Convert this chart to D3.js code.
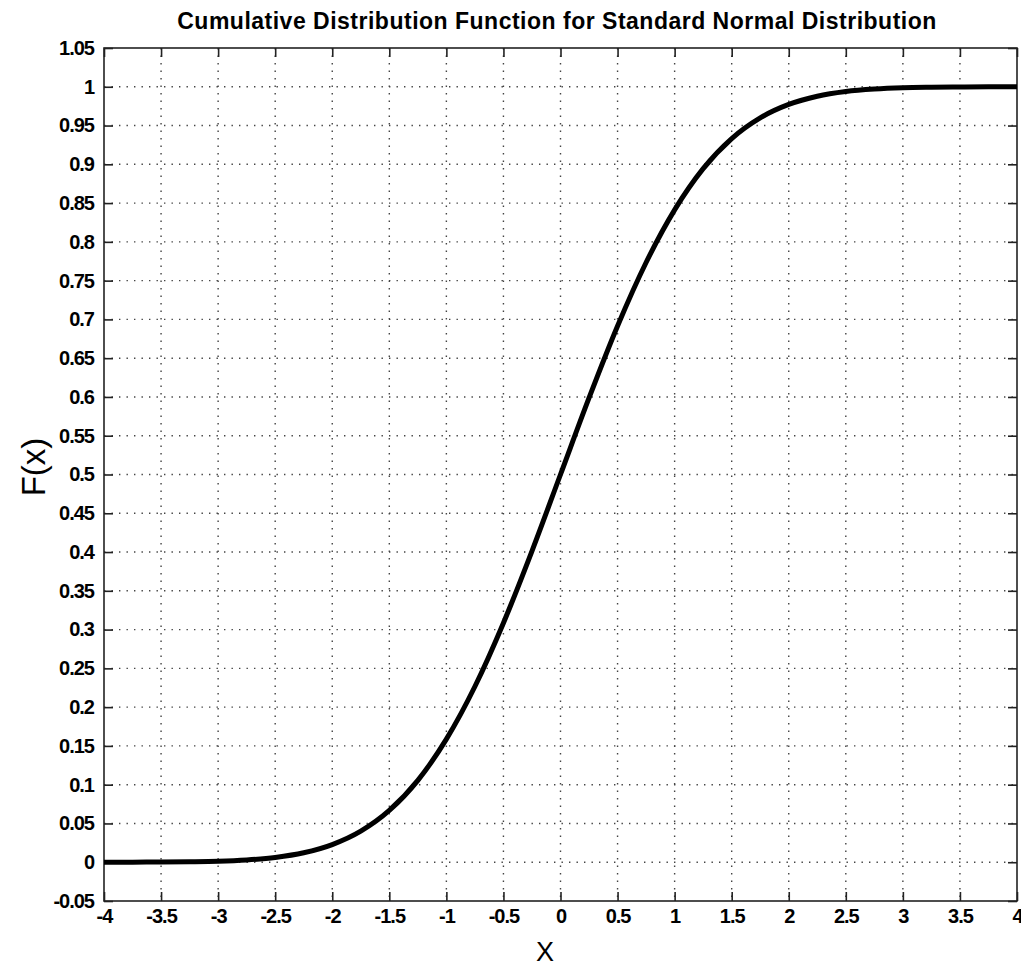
<!DOCTYPE html>
<html>
<head>
<meta charset="utf-8">
<script src="https://cdn.jsdelivr.net/npm/d3@7"></script>
<style>
  body { margin: 0; background: #fff; }
  svg { display: block; font-family: "Liberation Sans", Arial, sans-serif; }
  .tick text { font-weight: bold; font-size: 20px; letter-spacing: -1px; fill: #000; }
  .grid line { stroke: #444; stroke-width: 1.4; stroke-dasharray: 1.4,6.1; }
</style>
</head>
<body>
<script>
// x values and F(x)
var xVals = [-4, -3.75, -3.5, -3.25, -3, -2.75, -2.5, -2.25, -2, -1.75, -1.5, -1.25, -1, -0.75, -0.5, -0.25,
             0, 0.25, 0.5, 0.75, 1, 1.25, 1.5, 1.75, 2, 2.25, 2.5, 2.75, 3, 3.25, 3.5, 3.75, 4];
var fVals = [0.0000, 0.0001, 0.0002, 0.0006, 0.0013, 0.0030, 0.0062, 0.0122, 0.0228, 0.0401, 0.0668, 0.1056, 0.1587, 0.2266, 0.3085, 0.4013,
             0.5000, 0.5987, 0.6915, 0.7734, 0.8413, 0.8944, 0.9332, 0.9599, 0.9772, 0.9878, 0.9938, 0.9970, 0.9987, 0.9994, 0.9998, 0.9999, 1.0000];

var xTicks = [-4, -3.5, -3, -2.5, -2, -1.5, -1, -0.5, 0, 0.5, 1, 1.5, 2, 2.5, 3, 3.5, 4];
var yTicks = [-0.05, 0, 0.05, 0.1, 0.15, 0.2, 0.25, 0.3, 0.35, 0.4, 0.45, 0.5, 0.55, 0.6, 0.65, 0.7, 0.75, 0.8, 0.85, 0.9, 0.95, 1, 1.05];

var titleText = "Cumulative Distribution Function for Standard Normal Distribution";

var W = 1021, H = 966;
var margin = {top: 48, right: 4, bottom: 65, left: 104};
var width = W - margin.left - margin.right,
    height = H - margin.top - margin.bottom;

var svg = d3.select("body").append("svg")
    .attr("width", W)
    .attr("height", H);

var g = svg.append("g")
    .attr("transform", "translate(" + margin.left + "," + margin.top + ")");

var x = d3.scaleLinear().domain([-4, 4]).range([0, width]);
var y = d3.scaleLinear().domain([-0.05, 1.05]).range([height, 0]);

function fmt(d) { return String(+d.toFixed(2)); }

// grid
g.append("g").attr("class", "grid")
  .selectAll("line").data(xTicks.slice(1, -1)).enter().append("line")
    .attr("x1", function(d) { return x(d); }).attr("x2", function(d) { return x(d); })
    .attr("y1", 0).attr("y2", height);
g.append("g").attr("class", "grid")
  .selectAll("line").data(yTicks.slice(1, -1)).enter().append("line")
    .attr("y1", function(d) { return y(d); }).attr("y2", function(d) { return y(d); })
    .attr("x1", 0).attr("x2", width);

// axes, ticks pointing inward
var xAxis = g.append("g")
    .attr("transform", "translate(0," + height + ")")
    .call(d3.axisBottom(x).tickValues(xTicks).tickFormat(fmt).tickSizeInner(-9).tickSizeOuter(0).tickPadding(13));
var yAxis = g.append("g")
    .call(d3.axisLeft(y).tickValues(yTicks).tickFormat(fmt).tickSizeInner(-9).tickSizeOuter(0).tickPadding(10));
g.append("g")
    .call(d3.axisTop(x).tickValues(xTicks).tickFormat("").tickSizeInner(-9).tickSizeOuter(0));
g.append("g")
    .attr("transform", "translate(" + width + ",0)")
    .call(d3.axisRight(y).tickValues(yTicks).tickFormat("").tickSizeInner(-9).tickSizeOuter(0));

g.selectAll(".domain").remove();
g.selectAll(".tick line").attr("stroke", "#222").attr("stroke-width", 1.6);
xAxis.selectAll(".tick text").attr("dy", "0.45em");

// frame
g.append("rect")
    .attr("width", width).attr("height", height)
    .attr("fill", "none").attr("stroke", "#222").attr("stroke-width", 1.6);

// curve
var pts = xVals.map(function(v, i) { return [v, fVals[i]]; });
var line = d3.line()
    .x(function(d) { return x(d[0]); })
    .y(function(d) { return y(d[1]); })
    .curve(d3.curveMonotoneX);

g.append("path")
    .datum(pts)
    .attr("d", line)
    .attr("fill", "none")
    .attr("stroke", "#000")
    .attr("stroke-width", 5);

// title and labels
svg.append("text")
    .attr("x", 557).attr("y", 29)
    .attr("text-anchor", "middle")
    .style("font-weight", "bold").style("font-size", "23px").style("letter-spacing", "0.5px")
    .text(titleText);

svg.append("text")
    .attr("x", 545).attr("y", 961)
    .attr("text-anchor", "middle")
    .style("font-size", "27px")
    .text("X");

svg.append("text")
    .attr("transform", "translate(45,467) rotate(-90)")
    .attr("text-anchor", "middle")
    .style("font-size", "33px")
    .text("F(x)");
</script>
</body>
</html>
